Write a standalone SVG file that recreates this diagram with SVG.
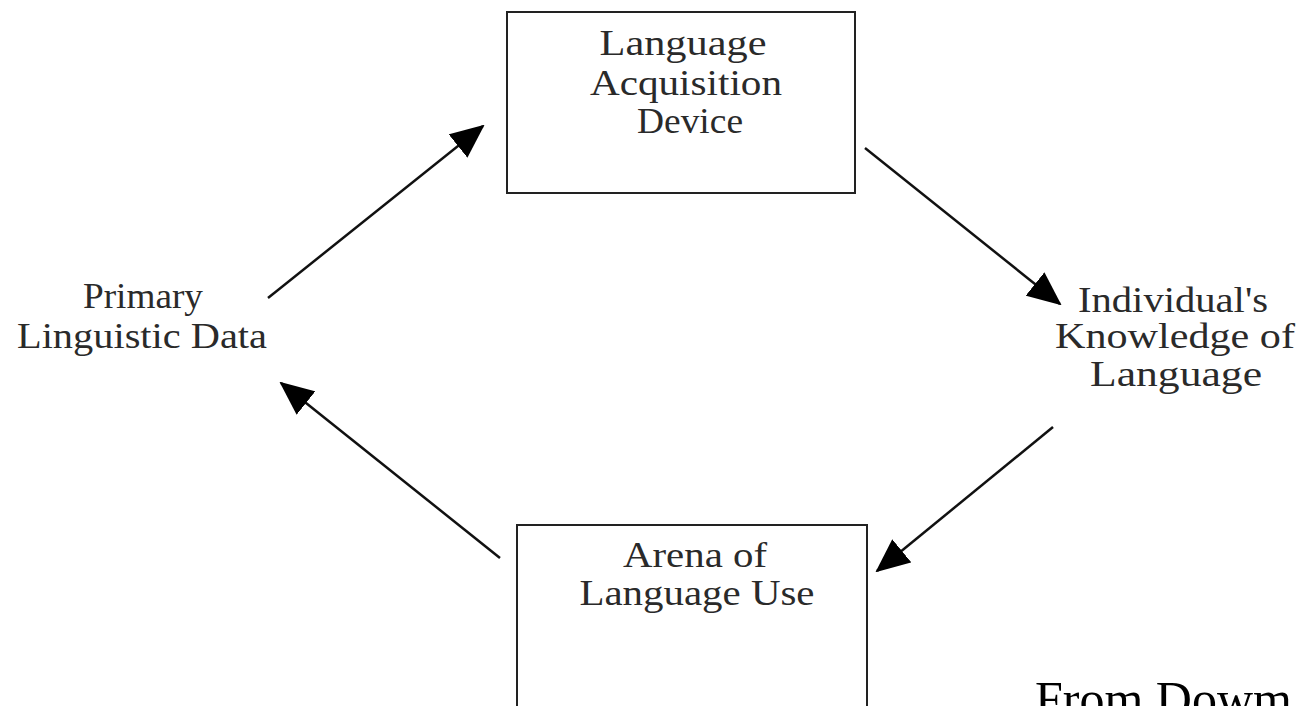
<svg xmlns="http://www.w3.org/2000/svg" width="1296" height="706" viewBox="0 0 1296 706">
<style>
.box{fill:#fff;stroke:#222;stroke-width:2}
.lbl{font-family:"Liberation Serif","Times New Roman",serif;font-size:35px;fill:#2a2a2a;text-anchor:middle}
.src{font-family:"Liberation Serif","Times New Roman",serif;font-size:50px;fill:#000}
.conn{stroke:#111;stroke-width:2.5;fill:none;marker-end:url(#ah)}
</style>
<defs>
<marker id="ah" viewBox="0 0 34 30" refX="32" refY="15" markerWidth="34" markerHeight="30" markerUnits="userSpaceOnUse" orient="auto">
<path d="M0,0 L34,15 L0,30 z" fill="#000"/>
</marker>
</defs>
<rect width="1296" height="706" fill="#fff"/>
<g id="lad">
<rect class="box" x="507" y="12" width="348" height="181"/>
<text class="lbl" x="683" y="55" textLength="167" lengthAdjust="spacingAndGlyphs">Language</text>
<text class="lbl" x="686" y="95" textLength="192" lengthAdjust="spacingAndGlyphs">Acquisition</text>
<text class="lbl" x="690" y="133" textLength="106" lengthAdjust="spacingAndGlyphs">Device</text>
</g>
<g id="pld">
<text class="lbl" x="143" y="308" textLength="120" lengthAdjust="spacingAndGlyphs">Primary</text>
<text class="lbl" x="142" y="348" textLength="250" lengthAdjust="spacingAndGlyphs">Linguistic Data</text>
</g>
<g id="ikl">
<text class="lbl" x="1173" y="312" textLength="190" lengthAdjust="spacingAndGlyphs">Individual's</text>
<text class="lbl" x="1175" y="348" textLength="240" lengthAdjust="spacingAndGlyphs">Knowledge of</text>
<text class="lbl" x="1176" y="386" textLength="172" lengthAdjust="spacingAndGlyphs">Language</text>
</g>
<g id="arena">
<rect class="box" x="517" y="525" width="350" height="200"/>
<text class="lbl" x="695" y="567" textLength="144" lengthAdjust="spacingAndGlyphs">Arena of</text>
<text class="lbl" x="697" y="605" textLength="235" lengthAdjust="spacingAndGlyphs">Language Use</text>
</g>
<g id="source">
<text class="src" x="1035" y="716">From Dowm</text>
</g>
<g id="connectors">
<line class="conn" x1="268" y1="298" x2="483" y2="126"/>
<line class="conn" x1="865" y1="148" x2="1060" y2="304"/>
<line class="conn" x1="1053" y1="427" x2="877" y2="571"/>
<line class="conn" x1="500" y1="558" x2="281" y2="383"/>
</g>
</svg>
